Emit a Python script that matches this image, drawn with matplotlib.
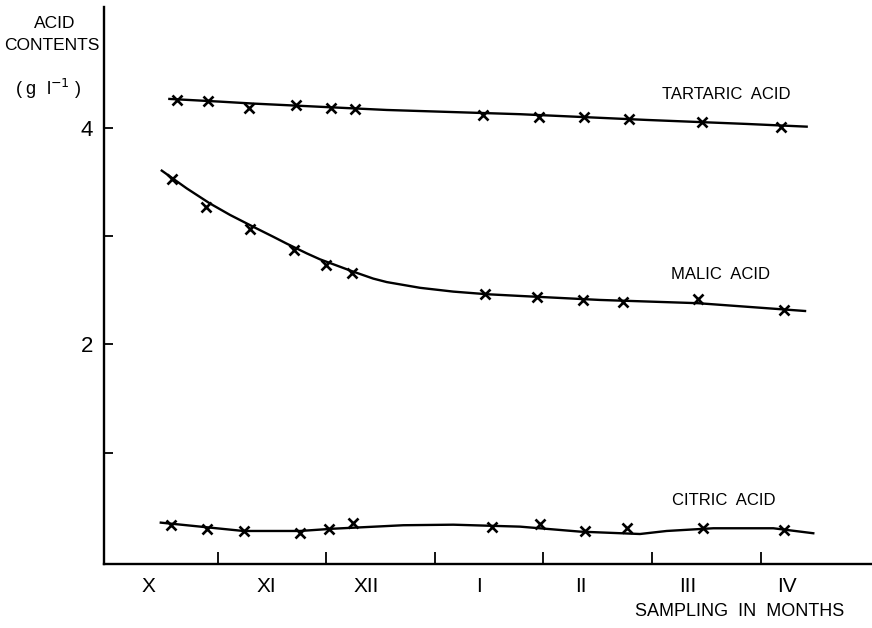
import numpy as np
import matplotlib
matplotlib.use("Agg")
import matplotlib.pyplot as plt

plt.rcParams['font.family'] = ['Liberation Sans', 'DejaVu Sans']

# x in months from 1 Oct, y in g/l
# measured points
tart_x = [0.621, 0.912, 1.290, 1.720, 2.040, 2.266, 3.446, 3.956, 4.373, 4.791, 5.458, 6.189]
tart_y = [4.257, 4.250, 4.186, 4.208, 4.180, 4.176, 4.115, 4.103, 4.097, 4.081, 4.054, 4.007]
mal_x = [0.575, 0.891, 1.296, 1.702, 1.994, 2.239, 3.461, 3.943, 4.361, 4.730, 5.427, 6.219]
mal_y = [3.525, 3.266, 3.063, 2.872, 2.730, 2.657, 2.465, 2.440, 2.410, 2.392, 2.419, 2.318]
cit_x = [0.566, 0.903, 1.244, 1.757, 2.027, 2.248, 3.529, 3.968, 4.383, 4.767, 5.473, 6.216]
cit_y = [0.332, 0.298, 0.277, 0.261, 0.293, 0.348, 0.317, 0.339, 0.280, 0.307, 0.307, 0.286]

# hand drawn curves
tart_cx = [0.553, 1.020, 1.327, 2.556, 3.784, 4.951, 5.873, 6.425]
tart_cy = [4.266, 4.241, 4.223, 4.164, 4.125, 4.072, 4.035, 4.010]
mal_cx = [0.483, 0.713, 0.928, 1.112, 1.327, 1.511, 1.634, 1.819, 1.941, 2.248, 2.432,
          2.556, 2.863, 3.169, 3.477, 3.784, 4.521, 5.424, 6.410]
mal_cy = [3.604, 3.440, 3.300, 3.195, 3.085, 2.993, 2.930, 2.840, 2.785, 2.671, 2.607,
          2.575, 2.522, 2.487, 2.463, 2.447, 2.410, 2.380, 2.308]
cit_cx = [0.474, 1.235, 1.757, 2.064, 2.709, 3.169, 3.784, 4.337, 4.889, 5.135, 5.565, 6.118, 6.486]
cit_cy = [0.354, 0.277, 0.277, 0.298, 0.330, 0.335, 0.317, 0.271, 0.249, 0.277, 0.302, 0.302, 0.256]

months = ['X', 'XI', 'XII', 'I', 'II', 'III', 'IV']
month_pos = [0.357, 1.45, 2.37, 3.41, 4.34, 5.33, 6.24]

fig = plt.figure(figsize=(8.72, 6.28), dpi=100)
ax = fig.add_axes([0.1193, 0.1019, 0.8807, 0.887])

for cx, cy, px, py in [(tart_cx, tart_cy, tart_x, tart_y),
                       (mal_cx, mal_cy, mal_x, mal_y),
                       (cit_cx, cit_cy, cit_x, cit_y)]:
    ax.plot(cx, cy, color='black', lw=1.7)
    ax.plot(px, py, 'x', color='black', ms=7, mew=1.9)

ax.set_xlim(-0.049, 7.027)
ax.set_ylim(-0.028, 5.115)

for s in ['top', 'right']:
    ax.spines[s].set_visible(False)
for s in ['left', 'bottom']:
    ax.spines[s].set_linewidth(1.7)

ax.set_xticks([1, 2, 3, 4, 5, 6])
ax.set_xticklabels([])
ax.tick_params(axis='x', which='major', direction='in', length=8.5, width=1.3)
ax.set_xticks(month_pos, minor=True)
ax.set_xticklabels(months, minor=True, fontsize=15)
ax.tick_params(axis='x', which='minor', length=0, pad=9)

ax.set_yticks([2, 4])
ax.set_yticklabels(['2', '4'], fontsize=16)
ax.set_yticks([1, 3], minor=True)
ax.tick_params(axis='y', which='both', direction='in', length=6.5, width=1.3, pad=8)

ax.text(5.092, 4.303, 'TARTARIC  ACID', fontsize=12, va='center')
ax.text(5.173, 2.641, 'MALIC  ACID', fontsize=12, va='center')
ax.text(5.182, 0.554, 'CITRIC  ACID', fontsize=12, va='center')

fig.text(55 / 872, 1 - 24 / 628, 'ACID', fontsize=12.5, ha='center', va='center')
fig.text(52 / 872, 1 - 46 / 628, 'CONTENTS', fontsize=12.5, ha='center', va='center')
fig.text(48 / 872, 1 - 89 / 628, '( g  l$^{-1}$ )', fontsize=13, ha='center', va='center')
fig.text(740 / 872, 1 - 611 / 628, 'SAMPLING  IN  MONTHS', fontsize=13, ha='center', va='center')

fig.savefig('out.png', dpi=100)
